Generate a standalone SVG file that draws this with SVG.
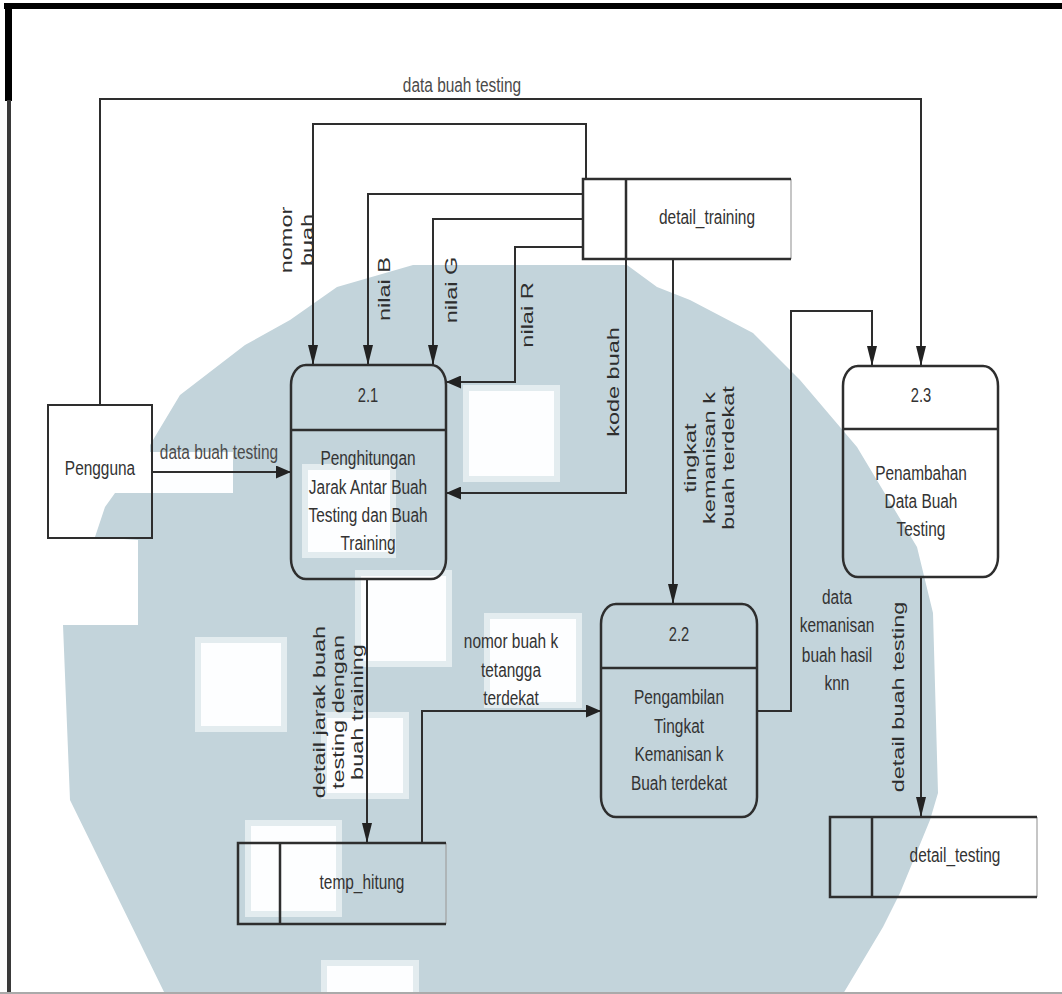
<svg xmlns="http://www.w3.org/2000/svg" width="1062" height="994" viewBox="0 0 1062 994">
<style>
.wm{fill:#c3d4db}
.wh{fill:#fdfeff;stroke:#e3ecef;stroke-width:6}
.box{fill:none;stroke:#2e2e2e;stroke-width:2.5}
.ln{fill:none;stroke:#2e2e2e;stroke-width:2}
.edge{stroke:#a0a0a0;stroke-width:1.2}
.t{font-family:"Liberation Sans",Arial,sans-serif;font-size:21px;fill:#333;text-anchor:middle;dominant-baseline:central}
.n{font-size:20px}
.lab{fill:#4a4a4a}
.v{font-family:"Liberation Sans",Arial,sans-serif;font-size:23.5px;fill:#2e2e2e;text-anchor:middle;dominant-baseline:central}
</style>
<defs>
<marker id="aV" markerUnits="userSpaceOnUse" markerWidth="20" markerHeight="10" refX="20" refY="5" orient="auto"><path d="M0,0 L20,5 L0,10 Z" fill="#222"/></marker>
<marker id="aH" markerUnits="userSpaceOnUse" markerWidth="15" markerHeight="13" refX="15" refY="6.5" orient="auto"><path d="M0,0 L15,6.5 L0,13 Z" fill="#222"/></marker>
</defs>
<rect width="1062" height="994" fill="#fff"/>
<g id="watermark">
<path class="wm" d="M413,265 L627,265 L657,287 L690,300 L753,333 L800,380 L857,447 L917,547 L933,613 L938,793 L930,820 L900,893 L883,927 L843,994 L165,994 L70,800 L63,625 L138,625 L138,540 L95,537 L105,507 L115,493 L150,493 L150,445 L180,395 L245,345 L290,320 L337,287 Z"/>
<rect class="wh" x="466" y="388" width="91" height="91"/>
<rect class="wh" x="305" y="467" width="88" height="88"/>
<rect class="wh" x="358" y="573" width="91" height="91"/>
<rect class="wh" x="487" y="616" width="92" height="89"/>
<rect class="wh" x="324" y="715" width="82" height="81"/>
<rect class="wh" x="248" y="823" width="91" height="91"/>
<rect class="wh" x="324" y="963" width="92" height="40"/>
<rect class="wh" x="198" y="640" width="86" height="89"/>
<rect x="150" y="452" width="83" height="41" fill="#fdfeff"/>
</g>
<g id="frame">
<rect x="4" y="3" width="1058" height="6" fill="#000"/>
<rect x="5" y="3" width="7" height="98" fill="#000"/>
<rect x="7" y="100" width="4" height="894" fill="#3a3a3a"/>
<line x1="0" y1="993" x2="1062" y2="993" stroke="#aaa" stroke-width="2"/>
</g>
<g id="connectors">
<path class="ln" d="M100,405 V99 H921 V366" marker-end="url(#aV)"/>
<path class="ln" d="M152,472 H291" marker-end="url(#aH)"/>
<path class="ln" d="M586,179 V124 H313 V365" marker-end="url(#aV)"/>
<path class="ln" d="M583,194 H368 V365" marker-end="url(#aV)"/>
<path class="ln" d="M583,219 H433 V365" marker-end="url(#aV)"/>
<path class="ln" d="M583,247 H515 V382 H446" marker-end="url(#aH)"/>
<path class="ln" d="M626,259 V493 H446" marker-end="url(#aH)"/>
<path class="ln" d="M673,259 V604" marker-end="url(#aV)"/>
<path class="ln" d="M367,579 V843" marker-end="url(#aV)"/>
<path class="ln" d="M422,843 V711 H601" marker-end="url(#aH)"/>
<path class="ln" d="M757,711 H791 V311 H872 V366" marker-end="url(#aV)"/>
<path class="ln" d="M921,577 V817" marker-end="url(#aV)"/>
<text class="t lab" transform="translate(462,85) scale(0.735,1)">data buah testing</text>
<text class="t lab" transform="translate(219,452) scale(0.735,1)">data buah testing</text>
<text class="v" transform="translate(296,240) scale(0.735,1) rotate(-90)"><tspan x="0" dy="-0.6em">nomor</tspan><tspan x="0" dy="1.2em">buah</tspan></text>
<text class="v" transform="translate(384,289) scale(0.735,1) rotate(-90)">nilai B</text>
<text class="v" transform="translate(451,290) scale(0.735,1) rotate(-90)">nilai G</text>
<text class="v" transform="translate(527,315) scale(0.735,1) rotate(-90)">nilai R</text>
<text class="v" transform="translate(613,382) scale(0.735,1) rotate(-90)">kode buah</text>
<text class="v" transform="translate(708,458) scale(0.735,1) rotate(-90)"><tspan x="0" dy="-1.1em">tingkat</tspan><tspan x="0" dy="1.1em">kemanisan k</tspan><tspan x="0" dy="1.1em">buah terdekat</tspan></text>
<text class="v" transform="translate(337,712) scale(0.735,1) rotate(-90)"><tspan x="0" dy="-1.1em">detail jarak buah</tspan><tspan x="0" dy="1.1em">testing dengan</tspan><tspan x="0" dy="1.1em">buah training</tspan></text>
<text class="v" transform="translate(898,697) scale(0.735,1) rotate(-90)">detail buah testing</text>
<g class="t lab">
<text class="t" transform="translate(511,641) scale(0.735,1)">nomor buah k</text>
<text class="t" transform="translate(511,670) scale(0.735,1)">tetangga</text>
<text class="t" transform="translate(511,698) scale(0.735,1)">terdekat</text>
<text class="t" transform="translate(837,597) scale(0.735,1)">data</text>
<text class="t" transform="translate(837,625) scale(0.735,1)">kemanisan</text>
<text class="t" transform="translate(837,655) scale(0.735,1)">buah hasil</text>
<text class="t" transform="translate(837,683) scale(0.735,1)">knn</text>
</g>
</g>
<g id="pengguna">
<rect x="48" y="405" width="104" height="133" fill="none" stroke="#2e2e2e" stroke-width="2"/>
<text class="t" transform="translate(100,468) scale(0.735,1)">Pengguna</text>
</g>
<g id="p21">
<rect class="box" x="291" y="365" width="155" height="214" rx="15" ry="20"/>
<line class="box" x1="291" y1="430" x2="446" y2="430"/>
<text class="t n" transform="translate(368,395) scale(0.735,1)">2.1</text>
<text class="t" transform="translate(368,458) scale(0.735,1)">Penghitungan</text>
<text class="t" transform="translate(368,487) scale(0.735,1)">Jarak Antar Buah</text>
<text class="t" transform="translate(368,515) scale(0.735,1)">Testing dan Buah</text>
<text class="t" transform="translate(368,543) scale(0.735,1)">Training</text>
</g>
<g id="p22">
<rect class="box" x="601" y="604" width="156" height="213" rx="15" ry="20"/>
<line class="box" x1="601" y1="668" x2="757" y2="668"/>
<text class="t n" transform="translate(679,634) scale(0.735,1)">2.2</text>
<text class="t" transform="translate(679,697) scale(0.735,1)">Pengambilan</text>
<text class="t" transform="translate(679,726) scale(0.735,1)">Tingkat</text>
<text class="t" transform="translate(679,754) scale(0.735,1)">Kemanisan k</text>
<text class="t" transform="translate(679,783) scale(0.735,1)">Buah terdekat</text>
</g>
<g id="p23">
<rect class="box" x="843" y="366" width="155" height="211" rx="15" ry="20"/>
<line class="box" x1="843" y1="429" x2="998" y2="429"/>
<text class="t n" transform="translate(921,395) scale(0.735,1)">2.3</text>
<text class="t" transform="translate(921,473) scale(0.735,1)">Penambahan</text>
<text class="t" transform="translate(921,501) scale(0.735,1)">Data Buah</text>
<text class="t" transform="translate(921,529) scale(0.735,1)">Testing</text>
</g>
<g id="detail_training">
<line class="edge" x1="791" y1="179" x2="791" y2="259"/>
<path class="box" d="M791,179 H583 V259 H791 M626,179 V259"/>
<text class="t" transform="translate(707,217) scale(0.735,1)">detail_training</text>
</g>
<g id="temp_hitung">
<line class="edge" x1="446" y1="843" x2="446" y2="924"/>
<path class="box" d="M446,843 H238 V924 H446 M280,843 V924"/>
<text class="t" transform="translate(362,882) scale(0.735,1)">temp_hitung</text>
</g>
<g id="detail_testing">
<line class="edge" x1="1037" y1="817" x2="1037" y2="897"/>
<path class="box" d="M1037,817 H830 V897 H1037 M872,817 V897"/>
<text class="t" transform="translate(955,855) scale(0.735,1)">detail_testing</text>
</g>
</svg>
